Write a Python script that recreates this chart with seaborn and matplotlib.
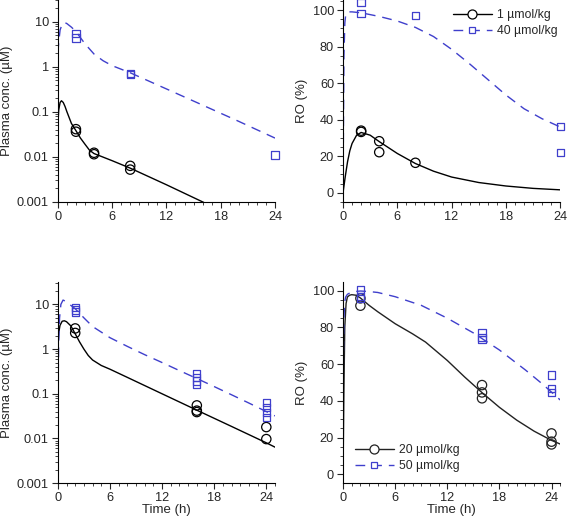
import numpy as np
import pandas as pd
import seaborn as sns
import matplotlib
matplotlib.use("Agg")
import matplotlib.pyplot as plt
from matplotlib.lines import Line2D
from matplotlib.ticker import FixedLocator, MultipleLocator, LogLocator, NullFormatter


# ---- observed data (read from figure) ----
# top-left: plasma conc, 1 and 40 umol/kg
pk1_obs_t = [2, 2, 4, 4, 8, 8]
pk1_obs_c = [0.041, 0.036, 0.0123, 0.0114, 0.0063, 0.0052]
pk40_obs_t = [2, 2, 8, 8, 24]
pk40_obs_c = [5.4, 4.3, 0.70, 0.67, 0.011]

# top-right: RO, 1 and 40 umol/kg
ro1_obs_t = [2, 2, 4, 4, 8]
ro1_obs = [34, 33.3, 28.2, 22.2, 16.4]
ro40_obs_t = [2, 2, 8, 24, 24]
ro40_obs = [104, 98, 97, 36.4, 22]

# bottom-left: plasma conc, 20 and 50 umol/kg
pk20_obs_t = [2, 2, 16, 16, 16, 24, 24]
pk20_obs_c = [2.9, 2.3, 0.055, 0.042, 0.039, 0.018, 0.0097]
pk50_obs_t = [2, 2, 2, 16, 16, 16, 16, 24, 24, 24, 24]
pk50_obs_c = [8.5, 7.5, 6.7, 0.28, 0.235, 0.195, 0.16, 0.063, 0.049, 0.038, 0.029]

# bottom-right: RO, 20 and 50 umol/kg
ro20_obs_t = [2, 2, 16, 16, 16, 24, 24, 24]
ro20_obs = [95.8, 91.8, 48.6, 44.6, 41.4, 22.3, 17.8, 16.3]
ro50_obs_t = [2, 2, 2, 16, 16, 16, 24, 24, 24]
ro50_obs = [100.7, 96.7, 95.8, 77.1, 74.6, 73.5, 54, 46.6, 44.5]

# ---- model curves ----
pk1_fit_t = [0, 0.1, 0.25, 0.4, 0.6, 0.8, 1.0, 1.5, 2.0, 2.5, 3.0, 3.5, 4.0, 6, 8, 12, 16, 17]
pk1_fit_c = [0.05, 0.11, 0.16, 0.175, 0.16, 0.13, 0.10, 0.055, 0.038, 0.026, 0.019, 0.014, 0.0118,
             0.0082, 0.0056, 0.0024, 0.001, 0.0008]
pk40_fit_t = [0, 0.1, 0.25, 0.5, 0.75, 1, 1.5, 2, 3, 4, 5, 6, 8, 12, 16, 20, 24]
pk40_fit_c = [2.0, 3.5, 6.5, 9.0, 9.5, 9.0, 7.5, 6.0, 3.2, 1.9, 1.35, 1.05, 0.73, 0.32, 0.14, 0.061, 0.026]

ro1_fit_t = [0, 0.25, 0.5, 0.75, 1, 1.5, 2, 3, 4, 6, 8, 10, 12, 15, 18, 21, 24]
ro1_fit = [0, 9, 17, 23, 27, 31.5, 33, 31.5, 28, 21.5, 16, 11.8, 8.6, 5.6, 3.7, 2.4, 1.6]
ro40_fit_t = [0, 0.05, 0.1, 0.2, 0.3, 0.5, 1, 2, 4, 6, 8, 10, 12, 14, 16, 18, 20, 22, 24]
ro40_fit = [0, 40, 75, 93, 97.5, 99, 99, 98.5, 96.5, 94, 90.5, 85.5, 78.5, 70.5, 62, 53.5, 46, 40.5, 36]

pk20_fit_t = [0, 0.1, 0.25, 0.5, 0.75, 1, 1.5, 2, 2.5, 3, 3.5, 4, 5, 6, 8, 12, 16, 20, 24, 25]
pk20_fit_c = [1.0, 2.3, 3.4, 4.2, 4.3, 4.1, 3.3, 2.2, 1.45, 1.0, 0.72, 0.57, 0.43, 0.355,
              0.233, 0.100, 0.043, 0.0186, 0.0080, 0.0064]
pk50_fit_t = [0, 0.05, 0.1, 0.2, 0.35, 0.6, 1, 1.5, 2, 3, 4, 5, 6, 8, 10, 12, 14, 16, 18, 20, 22, 24, 25]
pk50_fit_c = [0.05, 0.3, 1.5, 5, 10, 12.5, 11.5, 9.5, 8, 5, 3.2, 2.4, 1.8, 1.15, 0.75, 0.5, 0.33,
              0.22, 0.145, 0.095, 0.062, 0.04, 0.032]

ro20_fit_t = [0, 0.1, 0.2, 0.35, 0.5, 0.75, 1, 1.5, 2, 3, 4, 6, 8, 9.5, 12, 14, 16, 18, 20, 22, 24, 25]
ro20_fit = [0, 45, 80, 93, 96.5, 97.5, 97.8, 97.5, 96, 92, 88.5, 82, 76.5, 72, 62, 53, 44.5, 36.5,
            29.5, 23.5, 18.5, 16.5]
ro50_fit_t = [0, 0.05, 0.1, 0.2, 0.3, 0.5, 1, 2, 3, 4, 6, 9, 12, 15, 18, 21, 23, 25]
ro50_fit = [40, 70, 85, 94, 96.5, 98, 99.3, 99.8, 99.5, 99, 96.7, 92, 85, 77, 67.7, 56.8, 49, 40.5]

log_ticks = [0.001, 0.01, 0.1, 1, 10]
log_labels = ['0.001', '0.01', '0.1', '1', '10']
x_ticks = [0, 6, 12, 18, 24]

BLUE = '#3f3fcc'
DASH = (0, (7, 5))
FS = 9.2

sns.set_style("ticks")
plt.rcParams['font.family'] = ['Liberation Sans', 'DejaVu Sans']
plt.rcParams['font.size'] = FS


def draw(ax, fit_t, fit_y, obs_t, obs_y, color, ls, marker, ms):
    sns.lineplot(x=fit_t, y=fit_y, ax=ax, color=color, linestyle=ls, lw=1,
                 estimator=None, sort=False)
    sns.scatterplot(x=obs_t, y=obs_y, ax=ax, marker=marker, s=ms, facecolor='none',
                    edgecolor=color, linewidth=0.9, zorder=3, clip_on=False)


def style(ax, xmax, log):
    ax.set_xlim(0, xmax)
    ax.xaxis.set_major_locator(FixedLocator(x_ticks))
    ax.xaxis.set_minor_locator(MultipleLocator(1))
    if log:
        ax.set_yscale('log')
        ax.yaxis.set_major_locator(FixedLocator(log_ticks))
        ax.set_yticklabels(log_labels)
        ax.yaxis.set_minor_locator(LogLocator(base=10, subs=np.arange(2, 10)))
        ax.yaxis.set_minor_formatter(NullFormatter())
        ax.set_ylabel('Plasma conc. (\u00b5M)', fontsize=FS + 0.3)
        ax.yaxis.set_label_coords(-0.205, 0.5)
    else:
        ax.yaxis.set_major_locator(MultipleLocator(20))
        ax.yaxis.set_minor_locator(MultipleLocator(5))
        ax.set_ylabel('RO (%)', fontsize=FS + 0.3)
        ax.yaxis.set_label_coords(-0.16, 0.5)
    ax.tick_params(axis='both', which='major', direction='out', length=4, width=0.8, labelsize=FS, pad=2.5)
    ax.tick_params(axis='both', which='minor', direction='out', length=2, width=0.6)
    for s in ['top', 'right']:
        ax.spines[s].set_visible(False)
    for s in ['left', 'bottom']:
        ax.spines[s].set_linewidth(0.8)
        ax.spines[s].set_color('black')


fig = plt.figure(figsize=(5.67, 5.19), dpi=100)
ax1 = fig.add_axes([0.102, 0.611, 0.383, 0.389])
ax2 = fig.add_axes([0.605, 0.611, 0.383, 0.389])
ax3 = fig.add_axes([0.102, 0.069, 0.383, 0.388])
ax4 = fig.add_axes([0.605, 0.069, 0.383, 0.388])

# top-left
draw(ax1, pk1_fit_t, pk1_fit_c, pk1_obs_t, pk1_obs_c, 'black', '-', 'o', 45)
draw(ax1, pk40_fit_t, pk40_fit_c, pk40_obs_t, pk40_obs_c, BLUE, DASH, 's', 28)
style(ax1, 24, True)
ax1.set_ylim(0.001, 30)

# top-right
draw(ax2, ro1_fit_t, ro1_fit, ro1_obs_t, ro1_obs, 'black', '-', 'o', 45)
draw(ax2, ro40_fit_t, ro40_fit, ro40_obs_t, ro40_obs, BLUE, DASH, 's', 28)
style(ax2, 24, False)
ax2.set_ylim(-5, 105.5)

# bottom-left
draw(ax3, pk20_fit_t, pk20_fit_c, pk20_obs_t, pk20_obs_c, 'black', '-', 'o', 45)
draw(ax3, pk50_fit_t, pk50_fit_c, pk50_obs_t, pk50_obs_c, BLUE, DASH, 's', 28)
style(ax3, 25, True)
ax3.set_ylim(0.001, 32)
ax3.set_xlabel('Time (h)', fontsize=FS + 0.3, labelpad=0)

# bottom-right
draw(ax4, ro20_fit_t, ro20_fit, ro20_obs_t, ro20_obs, '#222222', '-', 'o', 45)
draw(ax4, ro50_fit_t, ro50_fit, ro50_obs_t, ro50_obs, BLUE, DASH, 's', 28)
style(ax4, 25, False)
ax4.set_ylim(-4.8, 104.8)
ax4.set_xlabel('Time (h)', fontsize=FS + 0.3, labelpad=0)


def handles(lab1, lab2, c1):
    h1 = Line2D([], [], color=c1, lw=1, marker='o', mfc='white', mec=c1, ms=6.5, mew=0.9)
    h2 = Line2D([], [], color=BLUE, lw=1, ls=DASH, marker='s', mfc='white', mec=BLUE, ms=5, mew=0.9)
    return [h1, h2], [lab1, lab2]


h, l = handles('1 \u00b5mol/kg', '40 \u00b5mol/kg', 'black')
ax2.legend(h, l, loc='upper right', bbox_to_anchor=(1.02, 0.99), frameon=False, fontsize=8.8,
           handlelength=3.2, handletextpad=0.4, labelspacing=0.3, borderaxespad=0.2)
h, l = handles('20 \u00b5mol/kg', '50 \u00b5mol/kg', '#222222')
ax4.legend(h, l, loc='lower left', bbox_to_anchor=(0.02, 0.02), frameon=False, fontsize=8.8,
           handlelength=3.2, handletextpad=0.4, labelspacing=0.3, borderaxespad=0.2)

fig.savefig('out.png', dpi=100)
